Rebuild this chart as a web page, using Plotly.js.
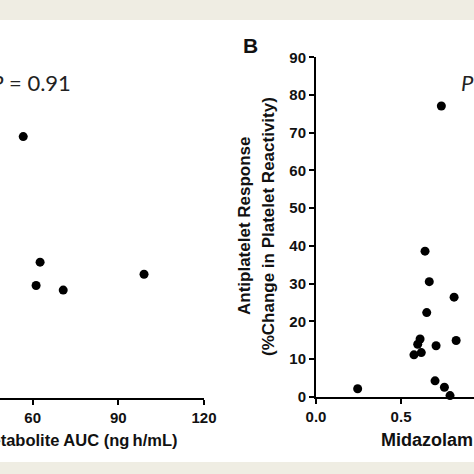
<!DOCTYPE html>
<html>
<head>
<meta charset="utf-8">
<script src="https://cdn.plot.ly/plotly-3.0.1.min.js"></script>
<style>html,body{margin:0;padding:0;background:#fff;}#chart{width:474px;height:474px;}</style>
</head>
<body>
<div id="chart"></div>
<script>
// Panel A (partially visible): active metabolite AUC vs antiplatelet response
const metaboliteAUC = [47.0, 47.0, 56.7, 62.6, 61.2, 70.7, 99.0];
const responseA     = [61.4, 37.2, 69.4, 36.1, 29.9, 28.7, 32.9];

// Panel B: midazolam vs antiplatelet response
const midazolam = [0.245, 0.576, 0.598, 0.612, 0.619, 0.641, 0.651, 0.666, 0.700, 0.706, 0.737, 0.755, 0.788, 0.812, 0.824];
const responseB = [2.1,   11.1,  13.9,  15.3,  11.7,  38.6,  22.3,  30.5,  4.2,   13.5,  77.1,  2.5,   0.3,   26.4,  14.9];

const W = 474, H = 474;
const px = v => v / W;
const py = v => 1 - v / H;

const boldFont = {family: 'Liberation Sans, Arial, sans-serif', color: '#111', weight: 'bold'};

const traces = [
  {x: metaboliteAUC, y: responseA, xaxis: 'x', yaxis: 'y', type: 'scatter', mode: 'markers',
   marker: {color: '#000', size: 9}, cliponaxis: false, hoverinfo: 'none'},
  {x: midazolam, y: responseB, xaxis: 'x2', yaxis: 'y2', type: 'scatter', mode: 'markers',
   marker: {color: '#000', size: 9}, cliponaxis: false, hoverinfo: 'none'}
];

const axisCommon = {
  showgrid: false, zeroline: false, showline: true, linecolor: '#000', linewidth: 2,
  ticks: 'outside', ticklen: 5, tickwidth: 2, tickcolor: '#000',
  tickfont: Object.assign({size: 15}, boldFont), fixedrange: true
};

const layout = {
  width: W, height: H,
  margin: {l: 0, r: 0, t: 0, b: 0},
  paper_bgcolor: '#fff', plot_bgcolor: 'rgba(0,0,0,0)',
  showlegend: false,
  xaxis: Object.assign({}, axisCommon, {
    domain: [0, px(204)], range: [48.56, 120], tick0: 0, dtick: 30, anchor: 'y'
  }),
  yaxis: {domain: [py(398.3), py(58.9)], range: [0, 90], visible: false, anchor: 'x', fixedrange: true},
  xaxis2: Object.assign({}, axisCommon, {
    domain: [px(316), 1], range: [0, 0.929], tick0: 0, dtick: 0.5, tickformat: '.1f', anchor: 'y2'
  }),
  yaxis2: Object.assign({}, axisCommon, {
    domain: [py(396.7), py(57.3)], range: [0, 90], tick0: 0, dtick: 10, anchor: 'x2'
  }),
  shapes: [
    {type: 'rect', xref: 'paper', yref: 'paper', x0: 0, x1: 1, y0: py(20), y1: 1,
     fillcolor: '#efede3', line: {width: 0}, layer: 'below'},
    {type: 'rect', xref: 'paper', yref: 'paper', x0: 0, x1: 1, y0: 0, y1: py(462),
     fillcolor: '#efede3', line: {width: 0}, layer: 'below'}
  ],
  annotations: [
    {text: 'Clopidogrel Active Metabolite AUC (ng\u2009h/mL)', xref: 'paper', yref: 'paper',
     x: px(180), y: py(440), xanchor: 'right', yanchor: 'middle', showarrow: false,
     font: Object.assign({size: 16.5}, boldFont)},
    {text: 'Midazolam AUC (ng\u2009h/mL)', xref: 'paper', yref: 'paper',
     x: px(379), y: py(440), xanchor: 'left', yanchor: 'middle', showarrow: false,
     font: Object.assign({size: 18}, boldFont)},
    {text: 'Antiplatelet Response', xref: 'paper', yref: 'paper', textangle: -90,
     x: px(245), y: py(226), xanchor: 'center', yanchor: 'middle', showarrow: false,
     font: Object.assign({size: 17}, boldFont)},
    {text: '(%Change in Platelet Reactivity)', xref: 'paper', yref: 'paper', textangle: -90,
     x: px(268), y: py(227), xanchor: 'center', yanchor: 'middle', showarrow: false,
     font: Object.assign({size: 17}, boldFont)},
    {text: 'B', xref: 'paper', yref: 'paper',
     x: px(250), y: py(45), xanchor: 'center', yanchor: 'middle', showarrow: false,
     font: Object.assign({size: 21}, boldFont)},
    {text: '<i>P</i> = 0.91', xref: 'paper', yref: 'paper',
     x: px(73), y: py(82), xanchor: 'right', yanchor: 'middle', showarrow: false,
     font: {family: 'Lato, Open Sans, sans-serif', size: 22, color: '#222'}},
    {text: '<i>P</i>', xref: 'paper', yref: 'paper',
     x: px(459), y: py(82), xanchor: 'left', yanchor: 'middle', showarrow: false,
     font: {family: 'Lato, Open Sans, sans-serif', size: 22, color: '#222'}}
  ]
};

Plotly.newPlot('chart', traces, layout, {staticPlot: true, displayModeBar: false});
</script>
</body>
</html>
